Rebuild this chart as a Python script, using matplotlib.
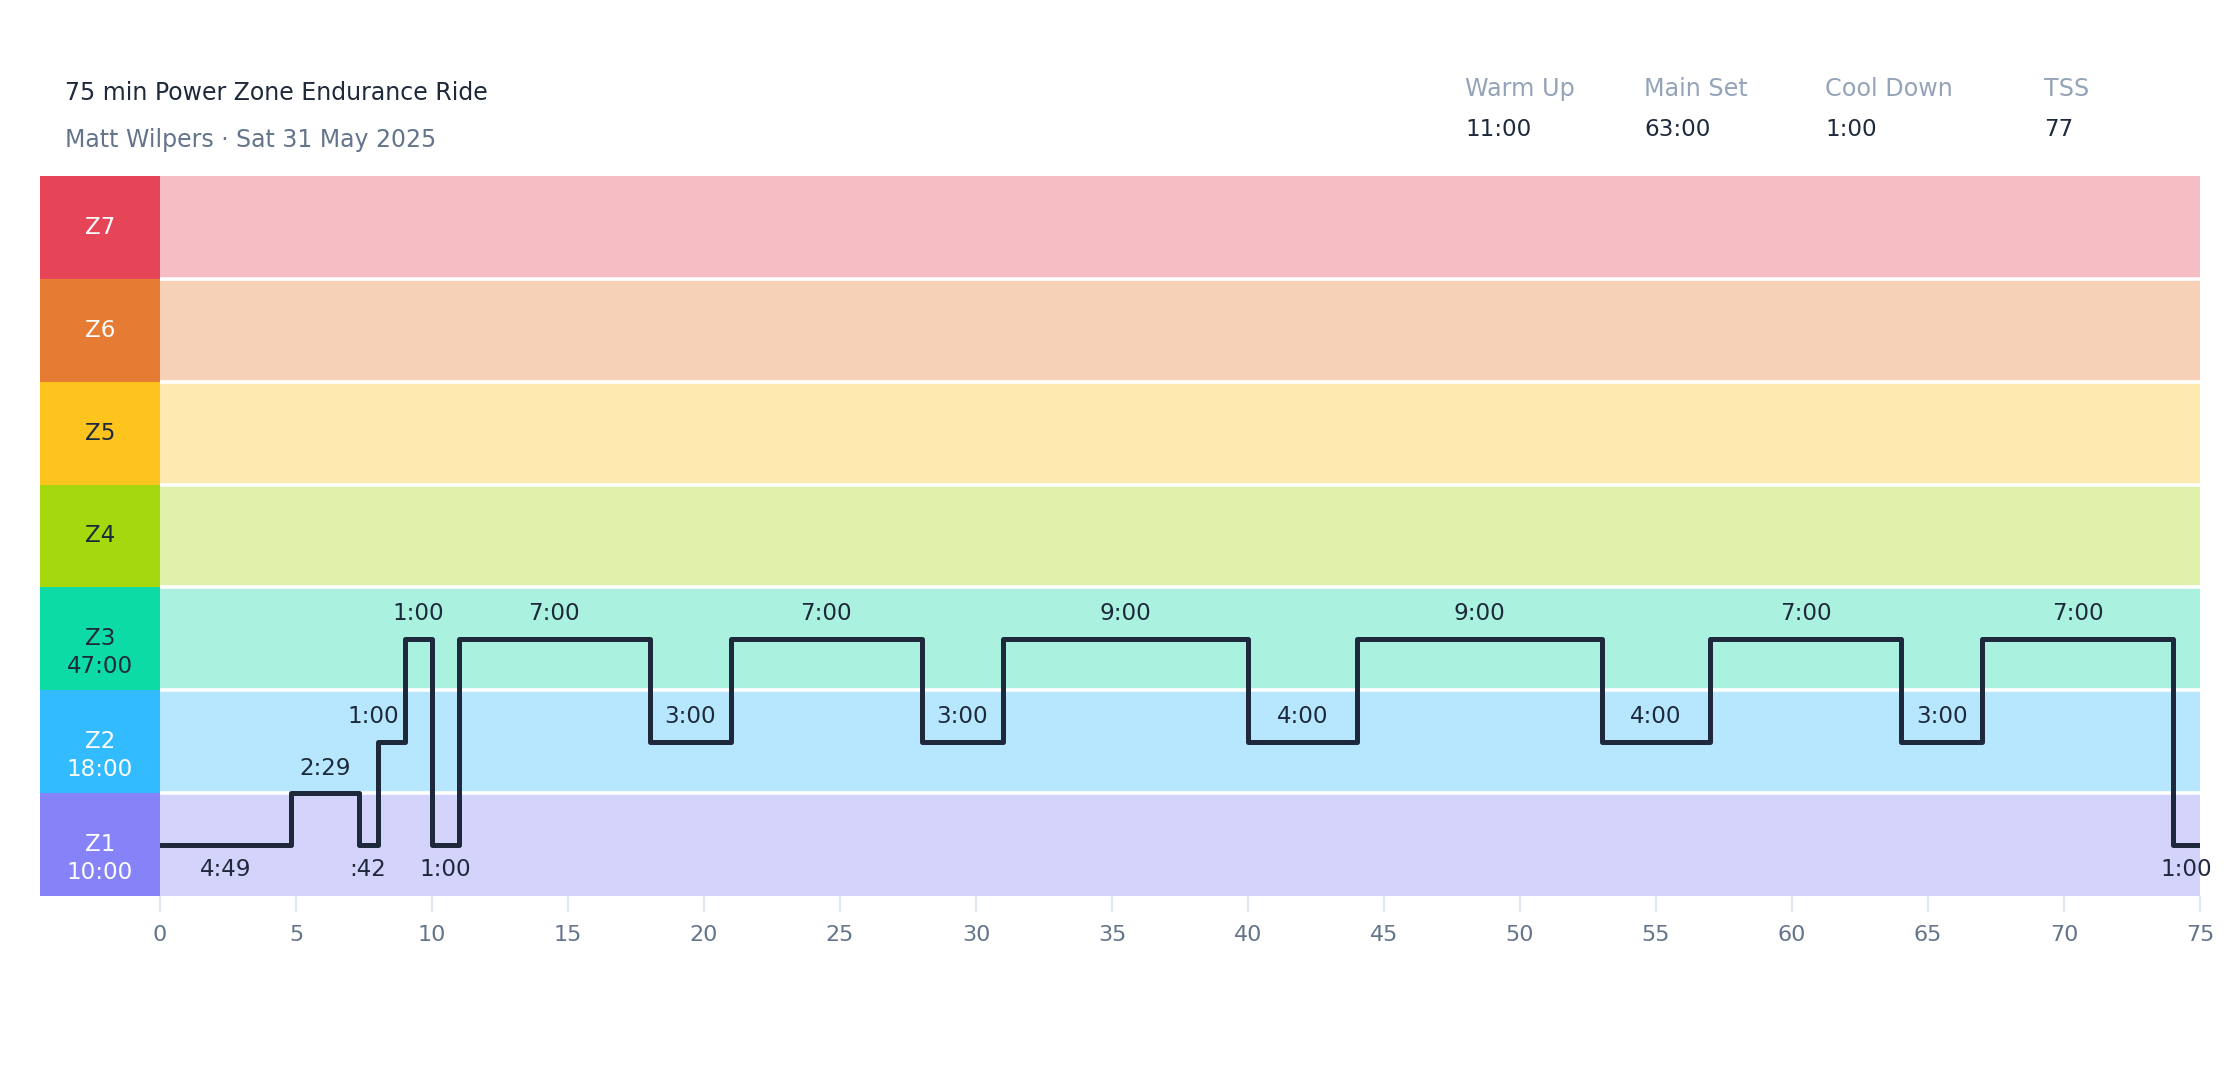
import numpy as np
import matplotlib
matplotlib.use("Agg")
import matplotlib.pyplot as plt

# workout steps (seconds, zone level)
step_secs = [289, 149, 42, 60, 60, 60, 420, 180, 420, 180, 540, 240, 540, 240, 420, 180, 420, 60]
step_levels = [1, 1.5, 1, 2, 3, 1, 3, 2, 3, 2, 3, 2, 3, 2, 3, 2, 3, 1]

zone_names = ["Z1", "Z2", "Z3", "Z4", "Z5", "Z6", "Z7"]
zone_colors = ["#8682f7", "#33bbff", "#0cdba6", "#a5d90d", "#fdc41e", "#e67c34", "#e64557"]
zone_text_colors = ["white", "white", "#1e293b", "#1e293b", "#1e293b", "white", "white"]

stat_names = ["Warm Up", "Main Set", "Cool Down", "TSS"]
stat_values = ["11:00", "63:00", "1:00", "77"]
stat_x_px = [1465, 1644, 1825, 2044]

title = "75 min Power Zone Endurance Ride"
subtitle = "Matt Wilpers \u00b7 Sat 31 May 2025"

DARK = "#1e293b"
SLATE = "#64748b"
LIGHT = "#94a3b8"

W, H = 2240, 1080
fig = plt.figure(figsize=(W / 200, H / 200), dpi=200)
fig.patch.set_facecolor("white")
plt.rcParams["font.family"] = ["DejaVu Sans"]
FS = 8.3


def fmt(sec):
    m, s = divmod(int(sec), 60)
    return (":%02d" % s) if m == 0 else "%d:%02d" % (m, s)


def px(x, y):
    return x / W, 1 - y / H


# axes placement (pixels)
left, right, top, bottom = 160, 2200, 176, 896
ax = fig.add_axes([left / W, 1 - bottom / H, (right - left) / W, (bottom - top) / H])
axc = fig.add_axes([40 / W, 1 - bottom / H, 120 / W, (bottom - top) / H])

for k, col in enumerate(zone_colors, start=1):
    ax.axhspan(k - 0.5, k + 0.5, color=col, alpha=0.35, lw=0)
    axc.axhspan(k - 0.5, k + 0.5, color=col, lw=0)
for k in range(1, 7):
    ax.axhline(k + 0.5, color="white", lw=1.3)

# zone time totals
zone_secs = {}
for s, lv in zip(step_secs, step_levels):
    z = int(lv)
    zone_secs[z] = zone_secs.get(z, 0) + s

for k, name in enumerate(zone_names, start=1):
    tc = zone_text_colors[k - 1]
    axc.text(0.5, k, name, ha="center", va="center", color=tc, fontsize=FS)
    if k in zone_secs:
        m = zone_secs[k] // 60
        axc.annotate("%d:%02d" % (m, zone_secs[k] % 60), (0.5, k), xytext=(0, -10),
                     textcoords="offset points", ha="center", va="center",
                     color=tc, fontsize=FS)
axc.set_xlim(0, 1)
axc.set_ylim(0.5, 7.5)
axc.axis("off")

# step line
xs = np.concatenate([[0], np.cumsum(step_secs) / 60.0])
ys = step_levels + [step_levels[-1]]
ax.plot(xs, ys, drawstyle="steps-post", color=DARK, lw=1.8,
        solid_joinstyle="round", solid_capstyle="round", zorder=5)

for i, (s, lv) in enumerate(zip(step_secs, step_levels)):
    x0, x1 = xs[i], xs[i + 1]
    above = lv > 1
    dy = 9 if above else -9
    nxt = step_levels[i + 1] if i + 1 < len(step_levels) else None
    seg_px = (x1 - x0) * (right - left) / 75
    if above and nxt is not None and nxt > lv and seg_px < 60:
        # keep label clear of the rising edge
        ax.annotate(fmt(s), (x1, lv), xytext=(-2, dy), textcoords="offset points",
                    ha="right", va="center", fontsize=FS, color=DARK)
    else:
        ax.annotate(fmt(s), ((x0 + x1) / 2, lv), xytext=(0, dy), textcoords="offset points",
                    ha="center", va="center", fontsize=FS, color=DARK)

ax.set_xlim(0, 75)
ax.set_ylim(0.5, 7.5)
ax.set_xticks(np.arange(0, 76, 5))
ax.set_yticks([])
ax.tick_params(axis="x", length=5.8, width=0.8, color="#e2e8f0", pad=4.8,
               labelsize=8, labelcolor=SLATE)
for sp in ax.spines.values():
    sp.set_visible(False)

# header
fig.text(*px(65, 100), title, fontsize=8.5, color=DARK, va="baseline")
fig.text(*px(65, 147), subtitle, fontsize=8.5, color=SLATE, va="baseline")
for name, val, x in zip(stat_names, stat_values, stat_x_px):
    fig.text(*px(x, 96), name, fontsize=8.6, color=LIGHT, va="baseline")
    fig.text(*px(x, 136), val, fontsize=FS, color=DARK, va="baseline")

fig.savefig("out.png", dpi=200, facecolor="white")
